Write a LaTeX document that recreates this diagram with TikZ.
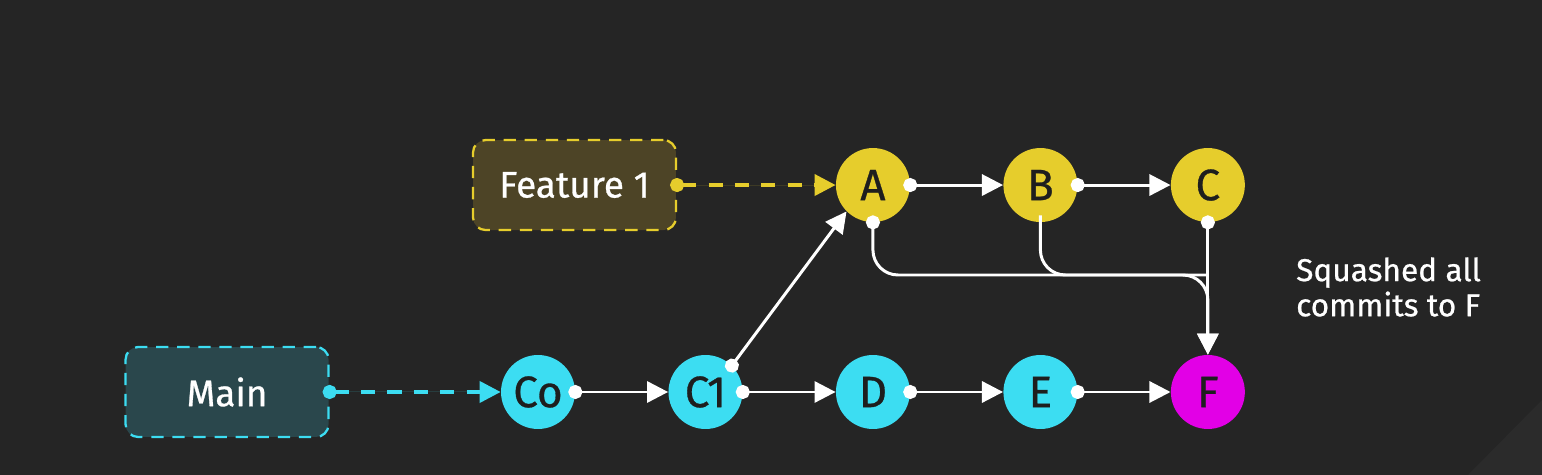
\documentclass[tikz,border=0pt]{standalone}
\usepackage{fontspec}
\setmainfont{Fira Sans}[FakeBold=0.7]
\usetikzlibrary{positioning}
\usetikzlibrary{arrows.meta}

\definecolor{bgdark}{HTML}{252525}
\definecolor{bgcorner}{HTML}{2B2B2B}
\definecolor{featyellow}{HTML}{E6CD2C}
\definecolor{featfill}{HTML}{4D4426}
\definecolor{maincyan}{HTML}{3CDDF2}
\definecolor{mainfill}{HTML}{2A474C}
\definecolor{squashpink}{HTML}{E200E6}
\definecolor{inkdark}{HTML}{1E1E1E}

\begin{document}
\begin{tikzpicture}[x=0.02cm, y=-0.02cm, node distance={3.35cm}, on grid,
    commit/.style = {circle, minimum size=1.48cm, inner sep=0pt, font=\fontsize{25}{25}\selectfont, text=inkdark},
    feat/.style = {commit, fill=featyellow},
    trunk/.style = {commit, fill=maincyan},
    squash/.style = {commit, fill=squashpink},
    branchbox/.style = {rounded corners=0.25cm, minimum width=4.06cm, minimum height=1.8cm, dashed, dash pattern=on 7pt off 5pt, line width=1.3pt, text=white, font=\fontsize{21}{21}\selectfont},
    link/.style = {draw=white, line width=1.7pt, shorten <=-4pt, {Circle[length=8pt,fill=white]}-{Triangle[length=12pt,width=12pt,fill=white]}},
    pointer/.style = {line width=2.2pt, dash pattern=on 8pt off 7pt, shorten <=-4pt, {Circle[length=8pt]}-{Triangle[length=12pt,width=12pt]}}]

    % background
    \fill[bgdark] (0,0) rectangle (1542,475);
    \fill[bgcorner] (1542,400) -- (1542,475) -- (1468,475) -- cycle;
    \useasboundingbox (0,0) rectangle (1542,475);

    % main line
    \node[trunk] (Co) at (538,392) {Co};
    \node[trunk] (C1) [right=of Co] {C1};
    \node[trunk] (D) [right=of C1] {D};
    \node[trunk] (E) [right=of D] {E};
    \node[squash] (F) [right=of E] {F};

    % feature line
    \node[feat] (A) [above=4.14cm of D] {A};
    \node[feat] (B) [right=of A] {B};
    \node[feat] (C) [right=of B] {C};

    % branch labels
    \node[branchbox, draw=maincyan, fill=mainfill] (Main) [left=6.22cm of Co] {Main};
    \node[branchbox, draw=featyellow, fill=featfill] (Feature) [left=5.97cm of A] {Feature 1};

    \node[anchor=west, align=left, text=white, font=\fontsize{18}{20}\selectfont] (note) at (1290,287) {Squashed all\\commits to F};

    \coordinate (join) at (F.north |- 0,275);

    \draw[pointer, draw=maincyan, fill=maincyan] (Main) -- (Co);
    \draw[pointer, draw=featyellow, fill=featyellow] (Feature) -- (A);

    \draw[link] (Co) -- (C1);
    \draw[link] (C1) -- (D);
    \draw[link] (D) -- (E);
    \draw[link] (E) -- (F);
    \draw[link] (A) -- (B);
    \draw[link] (B) -- (C);
    \draw[link] (C1.north east) -- (A.south west);
    \draw[link, rounded corners=0.5cm] (A.south) |- (join) -- (F.north);
    \draw[link, -, rounded corners=0.5cm] (B.south) |- (join);
    \draw[link] (C.south) -- (F.north);
\end{tikzpicture}
\end{document}
